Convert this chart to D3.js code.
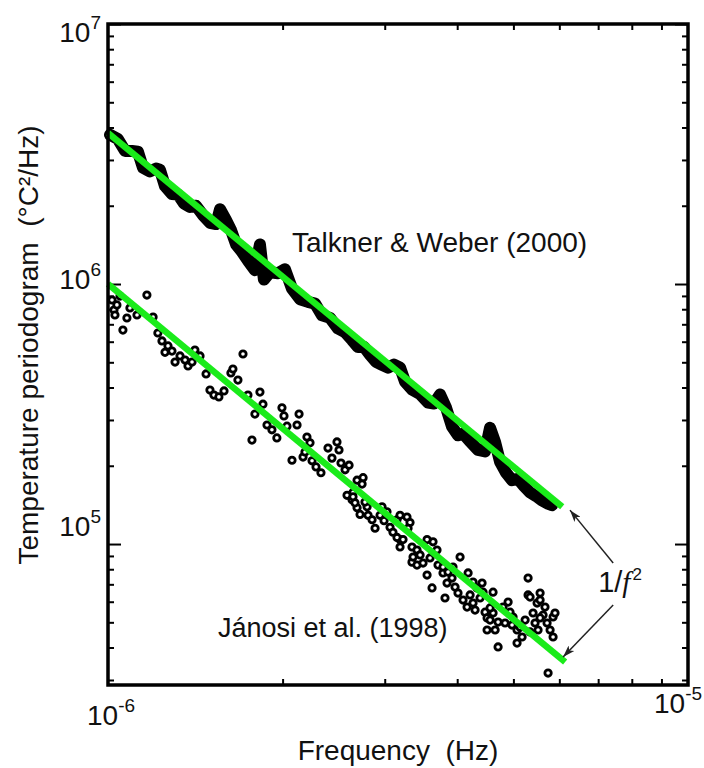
<!DOCTYPE html>
<html>
<head>
<meta charset="utf-8">
<script src="https://cdn.jsdelivr.net/npm/d3@7/dist/d3.min.js"></script>
<style>
  body { margin: 0; background: #fff; }
  text { font-family: "Liberation Sans", Arial, sans-serif; fill: #111; }
</style>
</head>
<body>
<div id="chart"></div>
<script>
// frequency in µHz (x 1e-6 Hz), periodogram in °C²/Hz
const talknerFreq = [1.008, 1.040, 1.070, 1.100, 1.126, 1.149, 1.181, 1.210, 1.229, 1.254, 1.289, 1.320,
  1.352, 1.385, 1.418, 1.458, 1.499, 1.536, 1.560, 1.598, 1.630, 1.663, 1.702, 1.743, 1.792, 1.828,
  1.857, 1.902, 1.964, 2.019, 2.076, 2.143, 2.212, 2.275, 2.339, 2.414, 2.492, 2.563, 2.635, 2.698,
  2.763, 2.830, 2.898, 2.968, 3.039, 3.112, 3.188, 3.252, 3.343, 3.452, 3.563, 3.649, 3.737, 3.826,
  3.919, 4.013, 4.094, 4.210, 4.344, 4.467, 4.557, 4.649, 4.742, 4.857, 4.973, 5.092, 5.215, 5.340,
  5.469, 5.601, 5.735, 5.828];
const talknerPower = [3.75e6, 3.61e6, 3.25e6, 3.25e6, 3.23e6, 2.80e6, 2.71e6, 2.78e6, 2.75e6, 2.38e6, 2.22e6, 2.21e6,
  2.04e6, 1.98e6, 2.00e6, 1.84e6, 1.72e6, 1.70e6, 1.94e6, 1.76e6, 1.61e6, 1.42e6, 1.33e6, 1.23e6, 1.13e6, 1.42e6,
  1.04e6, 1.11e6, 1.10e6, 1.14e6, 9.60e5, 8.74e5, 8.54e5, 8.41e5, 7.58e5, 7.41e5, 6.74e5, 6.52e5, 6.09e5, 5.72e5,
  5.73e5, 5.34e5, 5.02e5, 4.89e5, 4.77e5, 4.90e5, 4.77e5, 4.21e5, 3.93e5, 3.77e5, 3.50e5, 3.47e5, 3.76e5, 3.35e5,
  2.83e5, 2.62e5, 2.66e5, 2.48e5, 2.30e5, 2.27e5, 2.80e5, 2.47e5, 2.07e5, 1.88e5, 1.76e5, 1.78e5, 1.67e5, 1.58e5,
  1.53e5, 1.47e5, 1.43e5, 1.41e5];

const janosiFreq = [1.016, 1.024, 1.036, 1.028, 1.049, 1.061, 1.078, 1.091, 1.122, 1.167, 1.196, 1.219, 1.239,
  1.254, 1.269, 1.289, 1.305, 1.331, 1.358, 1.374, 1.396, 1.412, 1.441, 1.476, 1.499, 1.523, 1.553, 1.585,
  1.629, 1.642, 1.675, 1.709, 1.743, 1.771, 1.792, 1.828, 1.850, 1.880, 1.917, 1.955, 1.995, 2.011, 2.035,
  2.076, 2.118, 2.135, 2.169, 2.203, 2.230, 2.186, 2.248, 2.284, 2.329, 2.395, 2.433, 2.482, 2.502, 2.522,
  2.563, 2.583, 2.604, 2.635, 2.645, 2.688, 2.688, 2.720, 2.753, 2.742, 2.666, 2.797, 2.808, 2.853, 2.887,
  2.945, 2.968, 2.992, 3.064, 3.100, 3.150, 3.188, 3.188, 3.188, 3.277, 3.317, 3.291, 3.343, 3.343, 3.410,
  3.410, 3.452, 3.493, 3.549, 3.591, 3.620, 3.634, 3.692, 3.707, 3.781, 3.811, 3.842, 3.919, 3.966, 4.013,
  4.046, 4.094, 4.160, 4.177, 4.210, 4.260, 4.294, 4.415, 4.433, 4.468, 4.504, 4.504, 4.558, 4.612, 4.612,
  4.705, 4.705, 4.799, 4.896, 4.934, 4.993, 5.073, 5.073, 5.175, 5.238, 5.300, 5.300, 5.342, 5.406, 5.449,
  5.493, 5.514, 5.559, 5.625, 5.715, 5.784, 5.853, 5.853, 5.738,
  3.781, 3.857, 3.934, 4.260, 4.327, 4.380, 4.558, 4.650, 4.837, 4.973, 5.134, 5.342, 5.559, 5.668, 5.898,
  5.559, 2.645, 2.774, 3.027, 3.150, 3.226, 3.549, 3.357];
const janosiPower = [8.68e5, 7.94e5, 8.31e5, 7.60e5, 8.99e5, 6.65e5, 7.40e5, 8.09e5, 7.60e5, 9.07e5, 7.46e5, 6.48e5, 6.04e5,
  5.46e5, 5.78e5, 5.52e5, 5.01e5, 5.29e5, 5.10e5, 4.84e5, 5.01e5, 5.57e5, 5.29e5, 4.51e5, 3.91e5, 3.74e5, 3.68e5, 3.88e5,
  4.55e5, 4.71e5, 4.27e5, 5.38e5, 3.74e5, 2.51e5, 3.16e5, 3.84e5, 3.45e5, 2.87e5, 2.75e5, 2.56e5, 3.34e5, 3.11e5, 2.84e5,
  2.10e5, 2.87e5, 3.16e5, 2.16e5, 2.58e5, 2.45e5, 2.26e5, 2.09e5, 1.98e5, 1.88e5, 2.34e5, 2.14e5, 2.47e5, 2.30e5, 2.05e5,
  1.93e5, 1.54e5, 2.01e5, 1.48e5, 1.58e5, 1.76e5, 1.38e5, 1.30e5, 1.80e5, 1.70e5, 1.44e5, 1.39e5, 1.29e5, 1.24e5, 1.15e5,
  1.29e5, 1.39e5, 1.23e5, 1.16e5, 1.11e5, 1.24e5, 1.29e5, 1.04e5, 9.74e4, 1.27e5, 1.21e5, 1.15e5, 9.74e4, 8.52e4, 9.48e4,
  8.30e4, 9.08e4, 8.45e4, 7.60e4, 8.84e4, 6.78e4, 1.02e5, 9.48e4, 8.30e4, 7.74e4, 6.20e4, 7.08e4, 7.40e4, 6.83e4, 6.48e4,
  8.91e4, 6.09e4, 5.72e4, 7.74e4, 6.37e4, 5.93e4, 5.57e4, 7.08e4, 6.53e4, 5.47e4, 5.20e4, 4.67e4, 5.10e4, 6.53e4, 5.43e4,
  5.01e4, 4.02e4, 5.72e4, 5.98e4, 5.47e4, 5.24e4, 4.67e4, 4.16e4, 4.39e4, 5.10e4, 7.40e4, 6.37e4, 6.25e4, 5.43e4, 4.97e4,
  5.93e4, 4.67e4, 6.48e4, 5.33e4, 4.97e4, 4.67e4, 5.24e4, 4.39e4, 3.19e4,
  8.16e4, 7.80e4, 8.16e4, 7.14e4, 6.78e4, 6.20e4, 5.68e4, 4.67e4, 4.97e4, 4.88e4, 4.79e4, 4.59e4, 5.20e4, 5.72e4, 5.43e4,
  6.09e4, 1.52e5, 1.45e5, 1.33e5, 1.06e5, 1.04e5, 1.04e5, 8.91e4];

// 1/f^2 guide lines
const talknerFitFreq = [1.0, 6.07];
const talknerFitPower = [3.81e6, 1.39e5];
const janosiFitFreq = [1.0, 6.14];
const janosiFitPower = [1.0e6, 3.52e4];

const xMajor = [1e-6, 1e-5];
const xMajorExp = ["-6", "-5"];
const yMajor = [1e5, 1e6, 1e7];
const yMajorExp = ["5", "6", "7"];

const W = 704, H = 768;
const svg = d3.select("#chart").append("svg")
  .attr("width", W).attr("height", H);

const x = d3.scaleLog().domain([1e-6, 1e-5]).range([108, 688]);
const y = d3.scaleLog().domain([2.87e4, 1e7]).range([685, 24]);
const fx = f => x(f * 1e-6);

const isMajor = v => Math.abs(Math.log10(v) - Math.round(Math.log10(v))) < 1e-9;
const xMinor = x.ticks().filter(v => !isMajor(v));
const yMinor = y.ticks().filter(v => !isMajor(v));

// axes, ticks inward on all four sides
function drawAxis(axisFn, scale, values, size, tr) {
  const g = svg.append("g").attr("transform", tr)
    .call(axisFn(scale).tickValues(values).tickSize(size).tickFormat(""));
  g.select(".domain").remove();
  g.selectAll(".tick line").attr("stroke", "#000").attr("stroke-width", 2);
}
drawAxis(d3.axisLeft, y, yMinor, -6, "translate(108,0)");
drawAxis(d3.axisLeft, y, yMajor, -13, "translate(108,0)");
drawAxis(d3.axisRight, y, yMinor, -6, "translate(688,0)");
drawAxis(d3.axisRight, y, yMajor, -13, "translate(688,0)");
drawAxis(d3.axisBottom, x, xMinor, -6, "translate(0,685)");
drawAxis(d3.axisTop, x, xMinor, -6, "translate(0,24)");

// Talkner & Weber periodogram (dense band)
const line = d3.line().x(d => fx(d[0])).y(d => y(d[1]));
svg.append("path")
  .datum(d3.zip(talknerFreq, talknerPower))
  .attr("d", line)
  .attr("fill", "none")
  .attr("stroke", "#000")
  .attr("stroke-width", 12)
  .attr("stroke-linejoin", "round")
  .attr("stroke-linecap", "round");

// Jánosi et al. points
svg.append("g").selectAll("circle")
  .data(d3.zip(janosiFreq, janosiPower))
  .enter().append("circle")
  .attr("cx", d => fx(d[0]))
  .attr("cy", d => y(d[1]))
  .attr("r", 3.2)
  .attr("fill", "#fff")
  .attr("stroke", "#000")
  .attr("stroke-width", 2.8);

// green 1/f^2 lines
[[talknerFitFreq, talknerFitPower], [janosiFitFreq, janosiFitPower]].forEach(s => {
  svg.append("path")
    .datum(d3.zip(s[0], s[1]))
    .attr("d", line)
    .attr("fill", "none")
    .attr("stroke", "#1aeb1a")
    .attr("stroke-width", 6.5);
});

// frame
svg.append("rect")
  .attr("x", 108).attr("y", 24).attr("width", 580).attr("height", 661)
  .attr("fill", "none").attr("stroke", "#000").attr("stroke-width", 3.5);

// tick labels
const yNudge = [-8, 5, 18];
yMajor.forEach((v, i) => {
  const t = svg.append("text")
    .attr("x", 101).attr("y", y(v) + yNudge[i])
    .attr("text-anchor", "end")
    .style("font-size", "28px");
  t.append("tspan").text("10");
  t.append("tspan").attr("dy", -13).style("font-size", "19px").text(yMajorExp[i]);
});
const xNudge = [[3, 40], [-10, 28]];
xMajor.forEach((v, i) => {
  const t = svg.append("text")
    .attr("x", x(v) + xNudge[i][0]).attr("y", 685 + xNudge[i][1])
    .attr("text-anchor", "middle")
    .style("font-size", "28px");
  t.append("tspan").text("10");
  t.append("tspan").attr("dy", -13).style("font-size", "19px").text(xMajorExp[i]);
});

// axis titles
svg.append("text")
  .attr("x", 398).attr("y", 760)
  .attr("text-anchor", "middle")
  .style("font-size", "28px")
  .style("white-space", "pre")
  .text("Frequency  (Hz)");
svg.append("text")
  .attr("transform", "translate(38,345) rotate(-90)")
  .attr("text-anchor", "middle")
  .style("font-size", "28px")
  .style("white-space", "pre")
  .text("Temperature periodogram  (°C²/Hz)");

// series labels
svg.append("text")
  .attr("x", fx(2.076)).attr("y", y(1.33e6))
  .style("font-size", "28px")
  .text("Talkner & Weber (2000)");
svg.append("text")
  .attr("x", fx(1.547)).attr("y", y(4.39e4))
  .style("font-size", "27px")
  .text("Jánosi et al. (1998)");

const lab = svg.append("text")
  .attr("x", fx(7.0)).attr("y", y(6.54e4))
  .style("font-size", "29px");
lab.append("tspan").text("1/");
lab.append("tspan").style("font-family", "'Liberation Serif', 'Times New Roman', serif")
  .style("font-style", "italic").text("f");
lab.append("tspan").attr("dy", -12).attr("dx", 2).style("font-size", "17px").text("2");

// arrows
svg.append("defs").append("marker")
  .attr("id", "head")
  .attr("viewBox", "0 0 12 8")
  .attr("refX", 12).attr("refY", 4)
  .attr("markerWidth", 14).attr("markerHeight", 8)
  .attr("markerUnits", "userSpaceOnUse")
  .attr("orient", "auto")
  .append("path").attr("d", "M0,0 L12,4 L0,8 L3,4 Z").attr("fill", "#222");

const arrows = [
  { from: [7.43, 8.45e4], to: [6.26, 1.35e5] },
  { from: [7.43, 5.83e4], to: [6.09, 3.68e4] }
];
arrows.forEach(a => {
  svg.append("line")
    .attr("x1", fx(a.from[0])).attr("y1", y(a.from[1]))
    .attr("x2", fx(a.to[0])).attr("y2", y(a.to[1]))
    .attr("stroke", "#222").attr("stroke-width", 1.5)
    .attr("marker-end", "url(#head)");
});
</script>
</body>
</html>
